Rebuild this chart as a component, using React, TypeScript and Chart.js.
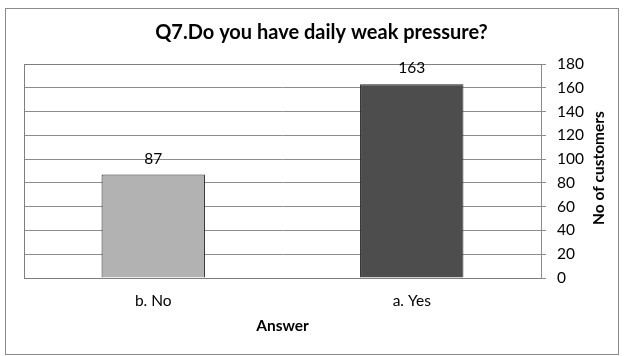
import React, { useEffect, useRef } from "react";
import { Chart, registerables } from "chart.js";

Chart.register(...registerables);

const categories = ["b. No", "a. Yes"];
const customers = [87, 163];
const barColors = ["#b2b2b2", "#4d4d4d"];
const yTicks = [0, 20, 40, 60, 80, 100, 120, 140, 160, 180];
const titleText = "Q7.Do you have daily weak pressure?";
const xTitle = "Answer";
const yTitle = "No of customers";

const FONT = "Lato, 'Open Sans', sans-serif";
const FS = 15.5;

const decorPlugin = {
  id: "decor",
  beforeDraw(chart: any) {
    const ctx = chart.ctx;
    ctx.save();
    ctx.strokeStyle = "#8c8c8c";
    ctx.lineWidth = 1;
    ctx.strokeRect(5.5, 8.5, 613, 346);
    ctx.restore();
  },
  afterDraw(chart: any) {
    const ctx = chart.ctx;
    const area = chart.chartArea;
    ctx.save();
    // plot frame
    ctx.strokeStyle = "#7f7f7f";
    ctx.lineWidth = 1;
    ctx.beginPath();
    ctx.moveTo(Math.round(area.left) + 0.5, Math.round(area.bottom));
    ctx.lineTo(Math.round(area.left) + 0.5, Math.round(area.top) + 0.5);
    ctx.lineTo(Math.round(area.right) + 0.5, Math.round(area.top) + 0.5);
    ctx.stroke();
    // value labels
    const meta = chart.getDatasetMeta(0);
    ctx.fillStyle = "#000";
    ctx.font = `${FS}px ${FONT}`;
    ctx.textAlign = "center";
    ctx.textBaseline = "middle";
    meta.data.forEach((bar: any, i: number) => {
      ctx.fillText(String(customers[i]), bar.x, bar.y - 16);
    });
    // x axis title
    ctx.font = `bold ${FS}px ${FONT}`;
    ctx.fillText(xTitle, (area.left + area.right) / 2, area.bottom + 48);
    // right axis title, reading bottom-to-top
    const yScale = chart.scales.y;
    ctx.translate(area.right + 58, (yScale.top + yScale.bottom) / 2 - 3);
    ctx.rotate(-Math.PI / 2);
    ctx.fillText(yTitle, 0, 0);
    ctx.restore();
  },
};

export default function App() {
  const ref = useRef<HTMLCanvasElement | null>(null);
  useEffect(() => {
    if (!ref.current) return;
    const chart = new Chart(ref.current, {
      type: "bar",
      data: {
        labels: categories,
        datasets: [
          {
            data: customers,
            backgroundColor: barColors,
            borderColor: "#262626",
            borderWidth: 1,
            categoryPercentage: 0.4,
            barPercentage: 1,
          },
        ],
      },
      options: {
        animation: false,
        responsive: false,
        maintainAspectRatio: false,
        layout: { padding: { left: 24, right: 6, top: 8, bottom: 28 } },
        plugins: {
          legend: { display: false },
          tooltip: { enabled: false },
          title: {
            display: true,
            text: titleText,
            color: "#000",
            font: { family: FONT, size: 20, weight: "bold" },
            padding: { top: 13, bottom: 19 },
          },
        },
        scales: {
          x: {
            grid: { display: false, drawTicks: false },
            border: { display: true, color: "#7f7f7f", width: 1 },
            afterFit: (scale: any) => {
              scale.height = 50;
            },
            ticks: {
              color: "#000",
              font: { family: FONT, size: FS },
              padding: 14,
            },
          },
          y: {
            position: "right",
            min: 0,
            max: 180,
            afterBuildTicks: (scale: any) => {
              scale.ticks = yTicks.map((v) => ({ value: v }));
            },
            afterFit: (scale: any) => {
              scale.width = 78;
            },
            grid: {
              color: "#8c8c8c",
              lineWidth: 1,
              tickLength: 5,
              drawTicks: true,
            },
            border: { display: true, color: "#8c8c8c", width: 1 },
            ticks: {
              color: "#000",
              font: { family: FONT, size: FS },
              padding: 11,
            },
          },
        },
      },
      plugins: [decorPlugin],
    });
    return () => chart.destroy();
  }, []);
  return (
    <div style={{ position: "fixed", left: 0, top: 0, width: 625, height: 356, background: "#fff" }}>
      <canvas ref={ref} width={625} height={356} style={{ width: 625, height: 356 }} />
    </div>
  );
}
